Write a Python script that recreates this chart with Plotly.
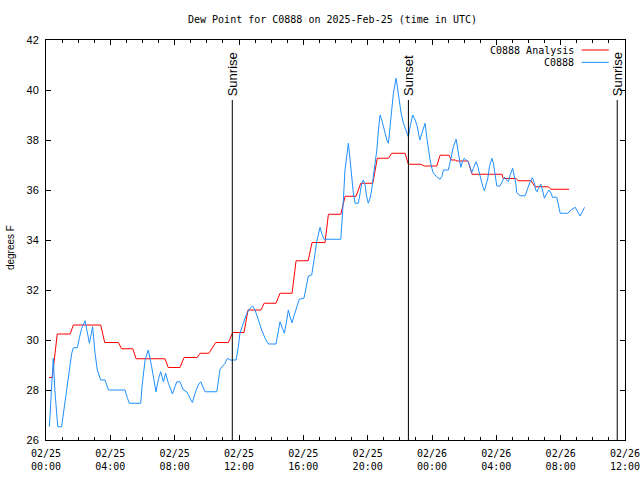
import pandas as pd
import plotly.graph_objects as go

# ---------------- data ----------------
base_time = "2025-02-25 00:00"
x_start = "2025-02-25 00:00"
x_end = "2025-02-26 12:00:01"

# C0888 Analysis (hours after 2025-02-25 00:00 UTC, degrees F)
red_hours = [0.19, 0.39, 0.70, 1.50, 1.70, 3.40, 3.65, 4.50, 4.70, 5.40, 5.60, 7.40, 7.60, 8.33, 8.58,
             9.40, 9.58, 10.13, 10.55, 11.34, 11.61, 12.31, 12.56, 13.37, 13.56, 14.30, 14.55, 15.30,
             15.55, 16.30, 16.54, 17.35, 17.56, 18.33, 18.60, 19.28, 19.57, 20.32, 20.60, 21.29, 21.50,
             22.33, 22.53, 23.32, 23.51, 24.30, 24.50, 25.06, 25.20, 25.44, 25.56, 26.24, 26.49, 28.36,
             28.42, 29.23, 29.35, 30.16, 30.41, 31.22, 31.40, 32.52]
red_values = [28.5, 28.5, 30.24, 30.24, 30.6, 30.6, 29.9, 29.9, 29.65, 29.65, 29.25, 29.25, 28.9, 28.9, 29.3,
              29.3, 29.47, 29.47, 29.9, 29.9, 30.3, 30.3, 31.2, 31.2, 31.47, 31.47, 31.87, 31.87,
              33.17, 33.17, 33.9, 33.9, 35.03, 35.03, 35.75, 35.75, 36.27, 36.27, 37.27, 37.27, 37.47,
              37.47, 37.03, 37.03, 36.96, 36.96, 37.39, 37.39, 37.2, 37.2, 37.16, 37.16, 36.63, 36.63,
              36.46, 36.46, 36.37, 36.37, 36.13, 36.13, 36.03, 36.03]

# C0888 observations
blue_hours = [0.21, 0.30, 0.45, 0.55, 0.73, 0.97, 1.18, 1.39, 1.60, 1.70, 1.95, 2.08, 2.22, 2.43, 2.55,
              2.70, 2.80, 2.90, 3.05, 3.19, 3.40, 3.67, 3.88, 4.91, 5.05, 5.18, 5.89, 5.97, 6.16, 6.36,
              6.57, 6.72, 6.84, 6.98, 7.13, 7.30, 7.44, 7.61, 7.86, 8.02, 8.13, 8.33, 8.54, 8.75, 8.96,
              9.10, 9.27, 9.47, 9.62, 9.74, 9.89, 10.62, 10.72, 10.82, 11.13, 11.28, 11.44, 11.82, 11.96,
              12.06, 12.27, 12.48, 12.69, 12.85, 13.00, 13.20, 13.41, 13.62, 13.83, 14.30, 14.45, 14.55,
              14.70, 14.82, 14.97, 15.07, 15.17, 15.30, 15.42, 15.59, 15.75, 16.04, 16.17, 16.31, 16.52,
              16.62, 16.73, 16.83, 16.93, 17.04, 17.14, 17.29, 18.33, 18.39, 18.49, 18.59, 18.70, 18.80,
              18.91, 19.01, 19.11, 19.22, 19.42, 19.53, 19.63, 19.73, 19.84, 19.94, 20.04, 20.15, 20.25,
              20.35, 20.46, 20.57, 20.67, 20.77, 20.88, 20.98, 21.08, 21.19, 21.29, 21.39, 21.50, 21.60,
              21.77, 21.87, 21.97, 22.08, 22.22, 22.39, 22.53, 22.64, 22.80, 22.95, 23.09, 23.24, 23.36,
              23.46, 23.57, 23.67, 23.77, 23.88, 23.99, 24.09, 24.30, 24.50, 24.61, 24.71, 25.02, 25.12,
              25.23, 25.33, 25.50, 25.60, 25.70, 25.79, 25.89, 26.01, 26.12, 26.26, 26.37, 26.47, 26.57,
              26.74, 26.85, 26.95, 27.05, 27.16, 27.26, 27.36, 27.47, 27.57, 27.72, 27.82, 27.92, 28.03,
              28.23, 28.34, 28.50, 28.65, 28.75, 28.86, 29.02, 29.10, 29.21, 29.27, 29.48, 29.79, 29.89,
              29.99, 30.10, 30.24, 30.37, 30.45, 30.53, 30.62, 30.76, 30.87, 30.99, 31.14, 31.28, 31.41,
              31.49, 31.76, 31.86, 31.97, 32.44, 32.65, 32.90, 33.00, 33.21, 33.35, 33.48]
blue_values = [26.53, 27.6, 29.27, 28.0, 26.53, 26.53, 27.47, 28.6, 29.47, 29.69, 29.69, 30.1, 30.47, 30.77, 30.4,
               29.87, 30.2, 30.53, 29.47, 28.8, 28.4, 28.4, 28.0, 28.0, 27.7, 27.47, 27.47, 28.13, 29.2, 29.6,
               28.93, 28.4, 27.93, 28.4, 28.73, 28.33, 28.67, 28.27, 27.84, 28.13, 28.33, 28.33, 28.0, 27.93, 27.67,
               27.5, 27.87, 28.2, 28.33, 28.13, 27.93, 27.93, 28.4, 28.83, 29.07, 29.27, 29.2, 29.2, 29.73,
               30.27, 30.67, 31.07, 31.27, 31.36, 31.2, 30.8, 30.4, 30.07, 29.84, 29.84, 30.33, 30.73,
               30.47, 30.27, 30.8, 31.2, 30.93, 30.69, 30.97, 31.33, 31.63, 31.67, 32.13, 32.56, 32.6,
               33.13, 33.47, 33.93, 34.27, 34.51, 34.27, 34.03, 34.03, 34.53, 35.6, 36.8, 37.47, 37.87,
               37.2, 36.4, 35.87, 35.47, 35.47, 35.87, 36.27, 36.4, 36.2, 35.73, 35.47, 35.67, 36.0,
               36.53, 37.07, 37.6, 38.4, 39.0, 38.8, 38.53, 38.27, 38.0, 37.87, 38.53, 39.33, 39.87,
               40.47, 40.0, 39.47, 39.07, 38.67, 38.4, 38.13, 38.53, 39.0, 38.8, 38.53, 38.0, 38.27,
               38.53, 38.67, 38.13, 37.6, 37.2, 36.87, 36.67, 36.53, 36.43, 36.53, 36.8, 36.8, 37.13,
               37.4, 37.73, 38.03, 37.6, 37.13, 36.91, 37.13, 37.27, 37.2, 37.13, 36.91, 36.69, 36.87,
               37.13, 36.93, 36.63, 36.33, 36.13, 35.97, 36.2, 36.47, 36.93, 37.27, 37.07, 36.6, 36.16,
               36.16, 36.33, 36.51, 36.4, 36.33, 36.6, 36.87, 36.6, 36.27, 35.89, 35.77, 35.77, 35.97,
               36.16, 36.33, 36.49, 36.27, 36.0, 35.93, 36.07, 36.24, 36.0, 35.67, 35.87, 36.0, 35.87,
               35.71, 35.71, 35.4, 35.07, 35.07, 35.2, 35.31, 35.2, 34.96, 35.13, 35.31]

event_names = ["Sunrise", "Sunset", "Sunrise"]
event_times = ["2025-02-25 11:35", "2025-02-25 22:32", "2025-02-26 11:31"]
event_top = 39.6

series_names = ["C0888 Analysis", "C0888"]
series_colors = ["#ff0000", "#1e90ff"]

y_min, y_max, y_step = 26, 42, 2
title_text = "Dew Point for C0888 on 2025-Feb-25 (time in UTC)"
y_title = "degrees F"

# ---------------- figure ----------------
base = pd.Timestamp(base_time)


def to_time(hours):
    return [base + pd.Timedelta(hours=h) for h in hours]


mono = "DejaVu Sans Mono"
sans = "Liberation Sans"

fig = go.Figure()
fig.add_trace(go.Scatter(x=to_time(red_hours), y=red_values, mode="lines", name=series_names[0],
                         line=dict(color=series_colors[0], width=1), showlegend=False))
fig.add_trace(go.Scatter(x=to_time(blue_hours), y=blue_values, mode="lines", name=series_names[1],
                         line=dict(color=series_colors[1], width=1), showlegend=False))

for name, t in zip(event_names, event_times):
    fig.add_shape(type="line", xref="x", yref="y", x0=t, x1=t, y0=y_min, y1=event_top,
                  line=dict(color="black", width=1), layer="above")
    fig.add_annotation(x=t, y=event_top, xref="x", yref="y", text=name, textangle=-90,
                       showarrow=False, xanchor="center", yanchor="bottom", yshift=2,
                       font=dict(family=sans, size=13, color="black"))

# legend drawn gnuplot-style: text then sample line
legend_rows = [0.975, 0.944]
for name, color, yy in zip(series_names, series_colors, legend_rows):
    fig.add_annotation(x=0.915, y=yy, xref="paper", yref="paper", text=name, showarrow=False,
                       xanchor="right", yanchor="middle", font=dict(family=mono, size=10, color="black"))
    fig.add_shape(type="line", xref="paper", yref="paper", x0=0.925, x1=0.972, y0=yy, y1=yy,
                  line=dict(color=color, width=1))

fig.add_annotation(x=0.494, y=1.05, xref="paper", yref="paper", text=title_text, showarrow=False,
                   xanchor="center", yanchor="middle", font=dict(family=mono, size=10, color="black"))
fig.add_annotation(x=-0.062, y=0.48, xref="paper", yref="paper", text=y_title, showarrow=False,
                   textangle=-90, xanchor="center", yanchor="middle",
                   font=dict(family=sans, size=10, color="black"))

fig.update_layout(
    width=640, height=480,
    margin=dict(l=46, r=15, t=40, b=40, autoexpand=False),
    paper_bgcolor="white", plot_bgcolor="white",
    showlegend=False,
    xaxis=dict(type="date", range=[x_start, x_end], tick0=x_start, dtick=4 * 3600 * 1000,
               tickformat="%m/%d<br>%H:%M", ticks="inside", ticklen=5, tickcolor="black",
               showline=True, linecolor="black", linewidth=1, mirror="ticks", showgrid=False,
               zeroline=False, automargin=False, ticklabeloverflow="allow", ticklabelstandoff=4,
               tickfont=dict(family=mono, size=10, color="black"),
               minor=dict(dtick=3600 * 1000, ticks="inside", ticklen=3, tickcolor="black", showgrid=False)),
    yaxis=dict(range=[y_min, y_max], dtick=y_step, tick0=y_min, ticks="inside", ticklen=5,
               tickcolor="black", showline=True, linecolor="black", linewidth=1, mirror="ticks",
               showgrid=False, zeroline=False, ticklabelstandoff=4, automargin=False,
               ticklabeloverflow="allow",
               tickfont=dict(family=sans, size=11, color="black")),
)

# remove the browser's default page margin so the figure sits at the window's corner
fig.write_html("out.html", config={"displayModeBar": False},
               post_script="document.body.style.margin='0px';")
